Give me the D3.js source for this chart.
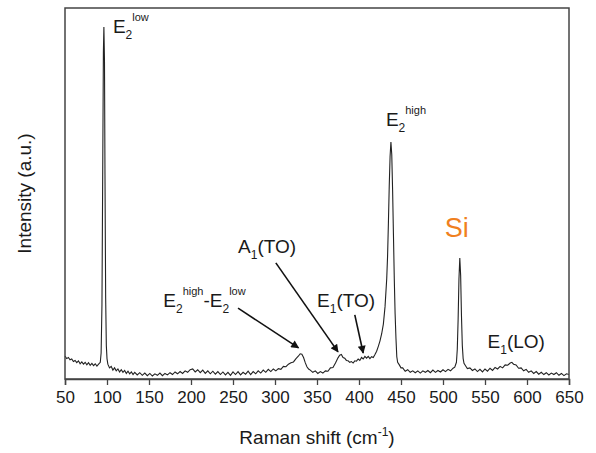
<!DOCTYPE html>
<html>
<head>
<meta charset="utf-8">
<script src="https://cdn.jsdelivr.net/npm/d3@7"></script>
<style>
  body { margin: 0; background: #fff; }
  text { font-family: Arial, "Liberation Sans", sans-serif; fill: #1a1a1a; }
</style>
</head>
<body>
<div class="chart"></div>
<script>
// Raman shift (cm-1) and intensity (a.u.)
const shift = [50,52,54,56,58,60,62,64,66,68,70,72,74,76,78,80,82,84,86,88,90,92,
  93,94,95,95.7,96.3,97,97.6,98.4,99.2,100,
  101,103,105,107,109,111,113,115,117,119,121,123,125,127,129,131,133,
  136,139,142,145,148,151,154,157,160,163,166,169,172,175,178,181,184,187,190,193,196,199,
  202,205,208,211,214,217,220,223,226,229,232,235,238,241,244,247,250,253,256,259,262,265,268,271,274,277,280,283,286,289,292,295,298,301,
  304,307,310,313,316,319,322,325,328,
  330,332,334,336,338,340,
  342,345,348,351,354,357,360,363,366,369,372,375,
  377,379,381,383,385,387,389,391,393,395,397,399,401,403,405,407,409,411,413,415,417,
  419,421,423,425,427,429,431,433,434,435,436,437,438,439,440,441,442,443,444,445,446,
  448,450,452,
  455,458,461,464,467,470,473,476,479,482,485,488,491,494,497,500,503,506,509,512,
  514,516,517,518,519,520,521,522,523,524,525,
  527,529,
  532,535,538,541,544,547,550,553,556,559,562,565,568,571,574,577,580,
  582,584,
  587,590,593,596,599,602,605,608,611,614,617,620,623,626,629,632,635,638,641,644,647,650];
const intensity = [62,55,58,52,54,47,50,44,49,41,46,40,45,38,44,37,42,36,41,35,40,45,
  70,200,600,880,949,860,550,220,90,55,
  40,30,34,24,30,22,27,19,25,18,23,15,21,14,19,12,18,
  11,17,10,16,9,15,8,14,10,16,9,15,11,17,12,19,14,20,15,22,18,25,
  27,19,25,17,24,15,22,14,21,13,20,12,19,11,18,10,19,12,20,11,18,13,21,12,20,14,22,16,24,18,26,20,27,22,
  28,26,34,33,40,44,46,55,62,
  68,67,58,44,33,27,
  24,18,22,15,20,16,22,21,30,31,43,57,
  64,66,58,56,50,49,45,47,43,49,48,54,50,58,54,61,56,61,55,60,58,
  66,75,88,103,122,148,195,270,330,420,520,600,639,605,510,390,270,175,110,60,45,
  38,30,30,
  21,25,18,22,17,22,16,22,18,23,17,24,18,23,19,25,20,26,22,29,
  32,45,80,160,270,326,280,170,90,55,42,
  35,28,
  30,23,27,20,26,19,27,21,29,23,31,27,34,30,38,37,43,
  45,40,
  38,29,30,22,26,18,22,15,20,13,18,12,17,11,16,12,17,10,15,9,14,12];

const xTicks = [50,100,150,200,250,300,350,400,450,500,550,600,650];

// peak labels: pieces of text (plain, sub, sup), anchored in data units
const labels = [
  {x: 107, y: 933, parts: [["E",""],["2","sub"],["low","sup"]]},
  {x: 432, y: 682, parts: [["E",""],["2","sub"],["high","sup"]]},
  {x: 167, y: 194, parts: [["E",""],["2","sub"],["high","sup"],["-E",""],["2","sub"],["low","sup"]]},
  {x: 256, y: 340, parts: [["A",""],["1","sub"],["(TO)",""]]},
  {x: 350, y: 194, parts: [["E",""],["1","sub"],["(TO)",""]]},
  {x: 553, y: 84,  parts: [["E",""],["1","sub"],["(LO)",""]]}
];
// arrows: from (x0,y0) to (x1,y1) in data units
const arrows = [
  {x0: 256, y0: 191, x1: 328, y1: 84},
  {x0: 301, y0: 313, x1: 375, y1: 73},
  {x0: 395, y0: 173, x1: 405, y1: 70}
];

var width = 596, height = 453;
var padding = {left: 65, right: 27, top: 8, bottom: 74};

var svg = d3.select(".chart").append("svg")
    .attr("width", width)
    .attr("height", height);

var xScale = d3.scaleLinear().domain([50, 650])
    .range([padding.left, width - padding.right]);
var yScale = d3.scaleLinear().domain([0, 1000])
    .range([height - padding.bottom, padding.top]);

svg.append("defs").append("marker")
    .attr("id", "head")
    .attr("viewBox", "0 0 10 10")
    .attr("refX", 9).attr("refY", 5)
    .attr("markerWidth", 11).attr("markerHeight", 8)
    .attr("markerUnits", "userSpaceOnUse")
    .attr("orient", "auto")
    .append("path").attr("d", "M0,0 L10,5 L0,10 z").attr("fill", "#111");

// spectrum
var pts = shift.map(function(d, i){ return [d, intensity[i]]; });
svg.append("path")
    .datum(pts)
    .attr("fill", "none")
    .attr("stroke", "#222")
    .attr("stroke-width", 1.1)
    .attr("d", d3.line()
        .x(function(d){ return xScale(d[0]); })
        .y(function(d){ return yScale(d[1]); }));

// frame
svg.append("rect")
    .attr("x", padding.left).attr("y", padding.top)
    .attr("width", width - padding.left - padding.right)
    .attr("height", height - padding.top - padding.bottom)
    .attr("fill", "none")
    .attr("stroke", "#444")
    .attr("stroke-width", 1.5);

// x axis with minor ticks
var xAxis = svg.append("g")
    .attr("transform", "translate(0," + (height - padding.bottom) + ")");
xAxis.call(d3.axisBottom(xScale).tickValues(d3.range(75, 650, 50)).tickSize(3).tickFormat(""));
xAxis.call(d3.axisBottom(xScale).tickValues(xTicks).tickSize(6).tickPadding(6));
xAxis.selectAll(".domain").attr("stroke", "#444").attr("stroke-width", 1.5);
xAxis.selectAll(".tick line").attr("stroke", "#444").attr("stroke-width", 1.3);
xAxis.selectAll("text")
    .style("font-size", "17px")
    .style("font-family", "Arial, 'Liberation Sans', sans-serif")
    .attr("fill", "#1a1a1a");

// axis titles
var xt = svg.append("text")
    .attr("x", (padding.left + width - padding.right) / 2)
    .attr("y", 444)
    .attr("text-anchor", "middle")
    .style("font-size", "19px");
xt.append("tspan").text("Raman shift (cm");
xt.append("tspan").attr("dy", -8).style("font-size", "12px").text("-1");
xt.append("tspan").attr("dy", 8).text(")");

svg.append("text")
    .attr("transform", "translate(31," + ((padding.top + height - padding.bottom) / 2) + ") rotate(-90)")
    .attr("text-anchor", "middle")
    .style("font-size", "19px")
    .text("Intensity (a.u.)");

// arrows
svg.selectAll(".arrow")
    .data(arrows)
    .enter()
    .append("line")
    .attr("class", "arrow")
    .attr("x1", function(d){ return xScale(d.x0); })
    .attr("y1", function(d){ return yScale(d.y0); })
    .attr("x2", function(d){ return xScale(d.x1); })
    .attr("y2", function(d){ return yScale(d.y1); })
    .attr("stroke", "#111")
    .attr("stroke-width", 1.6)
    .attr("marker-end", "url(#head)");

// peak labels
labels.forEach(function(l){
    var t = svg.append("text")
        .attr("x", xScale(l.x))
        .attr("y", yScale(l.y))
        .style("font-size", "19px");
    var shiftY = 0;
    l.parts.forEach(function(p){
        var dy = 0, size = "19px";
        if (p[1] == "sub") { dy = 6 - shiftY; size = "12px"; shiftY = 6; }
        else if (p[1] == "sup") { dy = -12 - shiftY; size = "11px"; shiftY = -12; }
        else { dy = -shiftY; shiftY = 0; }
        t.append("tspan").attr("dy", dy).style("font-size", size).text(p[0]);
    });
});

svg.append("text")
    .attr("x", xScale(502))
    .attr("y", yScale(383))
    .style("font-size", "27px")
    .style("fill", "#f0801e")
    .text("Si");
</script>
</body>
</html>
